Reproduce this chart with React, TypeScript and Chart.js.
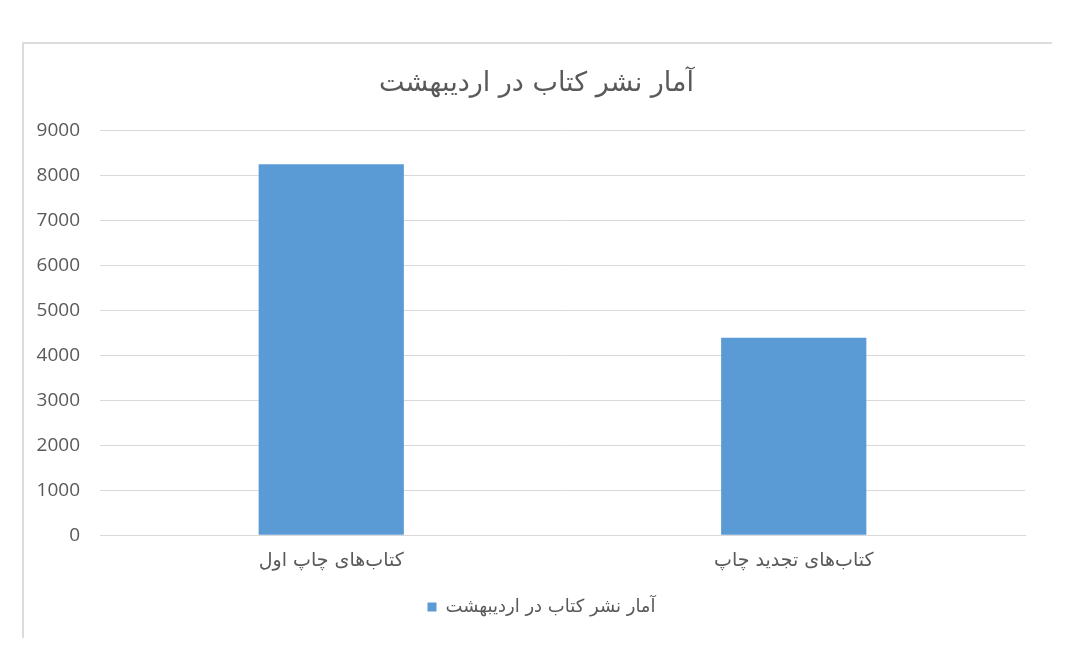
import React, { useEffect, useRef } from "react";
import { Chart, registerables } from "chart.js";

Chart.register(...registerables);

const categories = ["کتاب\u200cهای چاپ اول", "کتاب\u200cهای تجدید چاپ"];
const seriesName = "آمار نشر کتاب در اردیبهشت";
const seriesValues = [8250, 4390];
const chartTitle = "آمار نشر کتاب در اردیبهشت";
const yMin = 0;
const yMax = 9000;
const yStep = 1000;

const TEXT = "#595959";
const GRID = "#d9d9d9";
const BAR = "#5b9bd5";
const FONT_NUM = "'Open Sans', sans-serif";
const FONT_FA = "'DejaVu Sans', sans-serif";

const shiftBoxes = {
  id: "shiftBoxes",
  afterLayout(chart: any) {
    const t = chart.titleBlock;
    if (t) {
      t.left += 9;
      t.right += 9;
    }
    const l = chart.legend;
    if (l) {
      l.left += 14;
      l.right += 14;
    }
  },
};

export default function App() {
  const ref = useRef<HTMLCanvasElement | null>(null);
  useEffect(() => {
    if (!ref.current) return;
    const chart = new Chart(ref.current, {
      type: "bar",
      data: {
        labels: categories,
        datasets: [
          {
            label: seriesName,
            data: seriesValues,
            backgroundColor: BAR,
            borderWidth: 0,
            categoryPercentage: 1,
            barPercentage: 0.314,
          },
        ],
      },
      options: {
        animation: false,
        responsive: false,
        maintainAspectRatio: false,
        devicePixelRatio: 1,
        layout: { padding: { left: 30, right: 45, top: 60, bottom: 44 } },
        plugins: {
          title: {
            display: true,
            text: chartTitle,
            color: TEXT,
            font: { family: FONT_FA, size: 27, weight: "normal" },
            padding: { top: 8, bottom: 30 },
          },
          legend: {
            display: true,
            position: "bottom",
            labels: {
              color: TEXT,
              font: { family: FONT_FA, size: 18 },
              boxWidth: 9,
              boxHeight: 9,
              padding: 20,
            },
          },
          tooltip: { enabled: false },
        },
        scales: {
          x: {
            grid: { display: false },
            border: { display: true, color: GRID },
            ticks: {
              color: TEXT,
              font: { family: FONT_FA, size: 19 },
              padding: 6,
            },
          },
          y: {
            min: yMin,
            max: yMax,
            ticks: {
              stepSize: yStep,
              color: TEXT,
              font: { family: FONT_NUM, size: 19 },
              padding: 20,
              callback: (v: any) => String(v),
            },
            grid: { color: GRID, drawTicks: false },
            border: { display: false },
            afterFit: (s: any) => {
              s.width = 70;
            },
          },
        },
      },
      plugins: [shiftBoxes],
    });
    return () => chart.destroy();
  }, []);
  return (
    <div style={{ position: "fixed", left: 0, top: 0, width: 1070, height: 670, background: "#fff" }}>
      <div
        style={{
          position: "absolute",
          left: 22,
          top: 42,
          width: 1030,
          height: 596,
          borderTop: "2px solid #dcdcdc",
          borderLeft: "2px solid #dcdcdc",
          boxSizing: "border-box",
        }}
      />
      <canvas ref={ref} width={1070} height={670} style={{ position: "absolute", left: 0, top: 0 }} />
    </div>
  );
}
